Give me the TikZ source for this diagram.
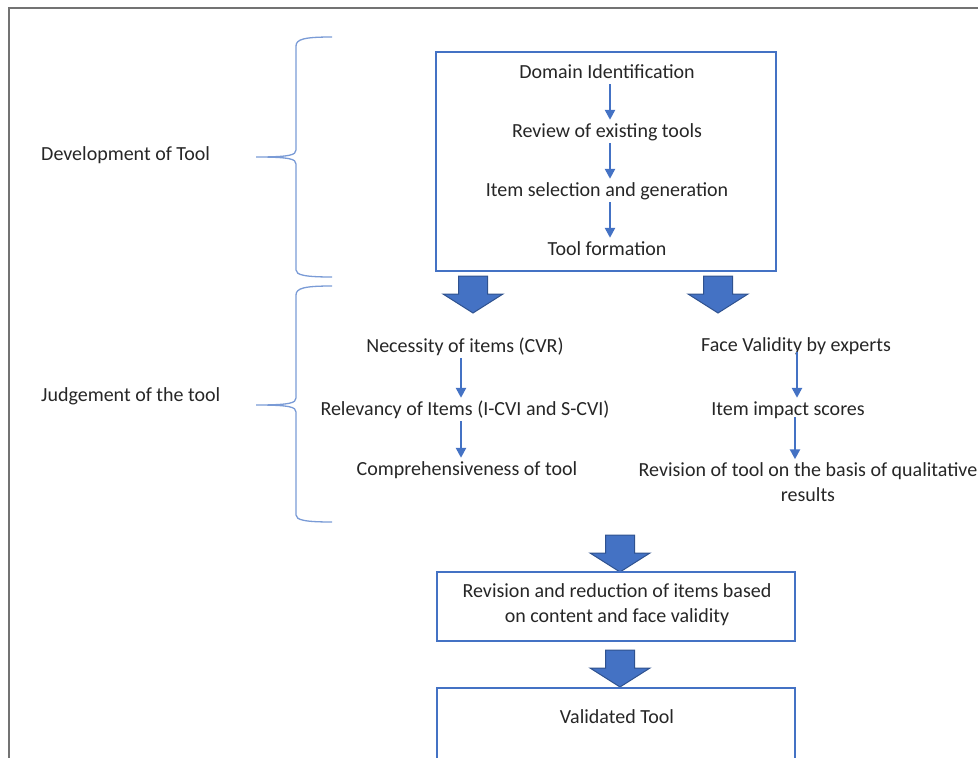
\documentclass[tikz,border=0pt]{standalone}
\usepackage{fontspec}
\setmainfont{Carlito}
\usetikzlibrary{arrows.meta}
\definecolor{obl}{HTML}{4472C4}
\definecolor{obd}{HTML}{2F528F}
\definecolor{brc}{HTML}{7A9BD6}
\tikzset{
  txtbase/.style={font=\fontsize{20}{25}\selectfont, inner sep=0pt, text=black!85},
  txt/.style={txtbase, text height=14pt, text depth=4pt, anchor=base},
  txtml/.style={txtbase, align=center, anchor=center},
  boxn/.style={draw=obl, line width=1.5pt, rectangle, inner sep=0pt},
  smallarr/.style={draw=obl, line width=2.4pt, -{Triangle[length=10pt,width=10pt]}, shorten <=2pt, shorten >=3pt},
  bracestyle/.style={draw=brc, line width=1.3pt},
  blockarrow/.pic={\path[fill=obl, draw=obd, line width=1pt] (-14.5,0) -- (14.5,0) -- (14.5,18) -- (30,18) -- (0,37) -- (-30,18) -- (-14.5,18) -- cycle;}
}
\begin{document}
\begin{tikzpicture}[x=1pt,y=-1pt]
\useasboundingbox (0,0) rectangle (978,758);
\clip (0,0) rectangle (978,758);
% outer frame
\draw[draw=black!55, line width=1.5pt] (9,758) -- (9,8) -- (980,8);

% left labels
\node[txt, anchor=base west] (dev) at (41,160) {Development of Tool};
\node[txt, anchor=base west] (jud) at (41,401) {Judgement of the tool};

% braces
\draw[bracestyle] (332,37) .. controls (305,37) and (296,39) .. (296,46) -- (296,150) .. controls (296,155) and (290,157) .. (256,157) .. controls (290,157) and (296,159) .. (296,164) -- (296,270) .. controls (296,275) and (305,277) .. (332,277);
\draw[bracestyle] (332,286) .. controls (305,286) and (296,288) .. (296,295) -- (296,398) .. controls (296,403) and (290,405) .. (256,405) .. controls (290,405) and (296,407) .. (296,412) -- (296,515) .. controls (296,520) and (305,522) .. (332,522);

% top box
\node[boxn, minimum width=340pt, minimum height=219pt] (box1) at (606,161.5) {};
\node[txt] (dom) at (607,78) {Domain Identification};
\node[txt] (rev) at (607,137) {Review of existing tools};
\node[txt] (sel) at (607,196) {Item selection and generation};
\node[txt] (form) at (607,255) {Tool formation};
\draw[smallarr] (dom.south -| 610,0) -- (rev.north -| 610,0);
\draw[smallarr] (rev.south -| 610,0) -- (sel.north -| 610,0);
\draw[smallarr] (sel.south -| 610,0) -- (form.north -| 610,0);

% block arrows below box 1
\pic at (473,276) {blockarrow};
\pic at (718,276) {blockarrow};

% left column
\node[txt] (nec) at (465,352) {Necessity of items (CVR)};
\node[txt] (relv) at (465,415) {Relevancy of Items (I-CVI and S-CVI)};
\node[txt] (comp) at (467,475) {Comprehensiveness of tool};
\draw[smallarr] (nec.south -| 461,0) -- (relv.north -| 461,0);
\draw[smallarr] (relv.south -| 461,0) -- (comp.north -| 461,0);

% right column
\node[txt] (fv) at (796,351) {Face Validity by experts};
\node[txt] (iis) at (788,415) {Item impact scores};
\node[txtml] (rq) at (808,482) {Revision of tool on the basis of qualitative\\results};
\draw[smallarr, shorten <=-3pt] (fv.south -| 797,0) -- (iis.north -| 797,0);
\draw[smallarr, shorten <=-2pt] (iis.south -| 795,0) -- (rq.north -| 795,0);

% lower flow
\pic at (620,535) {blockarrow};
\node[boxn, minimum width=358pt, minimum height=69pt] (box2) at (616,606.5) {};
\node[txtml] (rr) at (617,605) {Revision and reduction of items based\\on content and face validity};
\pic at (620,650) {blockarrow};
\node[boxn, minimum width=358pt, minimum height=90pt] (box3) at (616,733) {};
\node[txt] (val) at (617,723) {Validated Tool};
\end{tikzpicture}
\end{document}
